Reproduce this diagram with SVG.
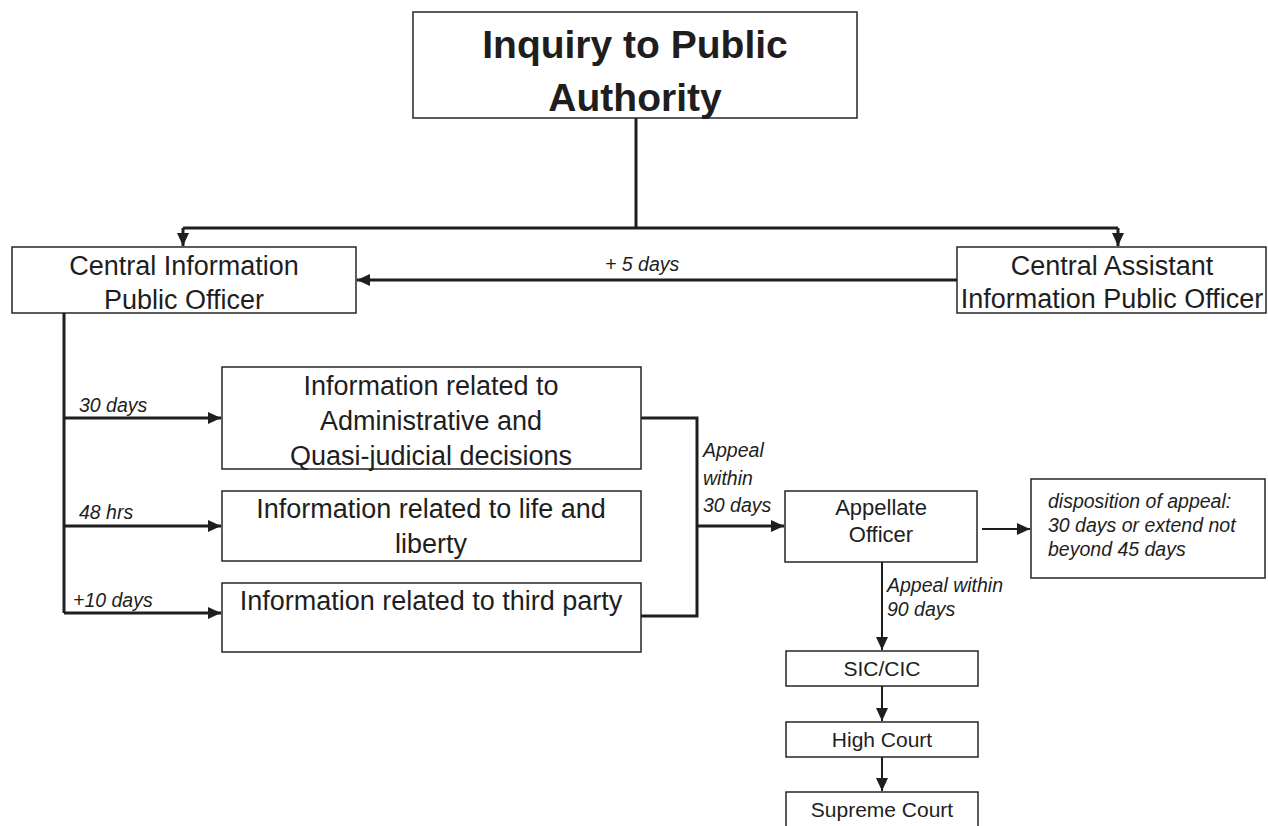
<svg xmlns="http://www.w3.org/2000/svg" width="1268" height="826" viewBox="0 0 1268 826">
<defs>
<style>
.box{fill:#fff;stroke:#262626;stroke-width:1.5}
.t{font-family:"Liberation Sans",Arial,sans-serif;fill:#1e1e1e;text-anchor:middle}
.lbl{font-family:"Liberation Sans",Arial,sans-serif;font-style:italic;fill:#1e1e1e;font-size:19.5px}
.thick{fill:none;stroke:#1e1e1e;stroke-width:3}
.thin{fill:none;stroke:#1e1e1e;stroke-width:2}
</style>
<marker id="ah" markerUnits="userSpaceOnUse" markerWidth="14" markerHeight="14" viewBox="0 0 14 14" refX="13" refY="7" orient="auto">
<path d="M0,1 L13,7 L0,13 Z" fill="#1e1e1e"/>
</marker>
</defs>
<rect width="1268" height="826" fill="#fff"/>

<g id="connectors">
<path class="thick" d="M636,118 V228"/>
<path class="thick" d="M183,228 H1118"/>
<path class="thick" d="M183,228 V246" marker-end="url(#ah)"/>
<path class="thick" d="M1118,228 V246" marker-end="url(#ah)"/>
<path class="thick" d="M957,280 H357" marker-end="url(#ah)"/>
<path class="thick" d="M64,313 V613"/>
<path class="thick" d="M64,418 H221" marker-end="url(#ah)"/>
<path class="thick" d="M64,526 H221" marker-end="url(#ah)"/>
<path class="thick" d="M64,613 H221" marker-end="url(#ah)"/>
<path class="thick" d="M641,418 H697 V616 H641"/>
<path class="thick" d="M697,526 H784" marker-end="url(#ah)"/>
<path class="thin" d="M982,529 H1030" marker-end="url(#ah)"/>
<path class="thin" d="M882,562 V650" marker-end="url(#ah)"/>
<path class="thin" d="M882,686 V721" marker-end="url(#ah)"/>
<path class="thin" d="M882,757 V791" marker-end="url(#ah)"/>
<text class="lbl" x="605" y="271">+ 5 days</text>
<text class="lbl" x="79" y="412">30 days</text>
<text class="lbl" x="79" y="519">48 hrs</text>
<text class="lbl" x="73" y="607">+10  days</text>
<text class="lbl" x="703" y="457">Appeal</text>
<text class="lbl" x="703" y="485">within</text>
<text class="lbl" x="703" y="512">30 days</text>
<text class="lbl" x="887" y="592" font-size="20.5">Appeal within</text>
<text class="lbl" x="887" y="616" font-size="20.5">90 days</text>
</g>

<g id="inquiry">
<rect class="box" x="413" y="12" width="444" height="106"/>
<text class="t" x="635" y="58" font-size="39" font-weight="bold">Inquiry to Public</text>
<text class="t" x="635" y="111" font-size="39" font-weight="bold">Authority</text>
</g>

<g id="cipo">
<rect class="box" x="12" y="247" width="344" height="66"/>
<text class="t" x="184" y="275" font-size="27">Central Information</text>
<text class="t" x="184" y="309" font-size="27">Public Officer</text>
</g>

<g id="caipo">
<rect class="box" x="957" y="247" width="309" height="66"/>
<text class="t" x="1112" y="275" font-size="27">Central Assistant</text>
<text class="t" x="1112" y="308" font-size="27">Information Public Officer</text>
</g>

<g id="info-admin">
<rect class="box" x="222" y="367" width="419" height="102"/>
<text class="t" x="431" y="395" font-size="27">Information related to</text>
<text class="t" x="431" y="430" font-size="27">Administrative and</text>
<text class="t" x="431" y="465" font-size="27">Quasi-judicial decisions</text>
</g>

<g id="info-life">
<rect class="box" x="222" y="491" width="419" height="70"/>
<text class="t" x="431" y="518" font-size="27">Information related to life and</text>
<text class="t" x="431" y="553" font-size="27">liberty</text>
</g>

<g id="info-third">
<rect class="box" x="222" y="583" width="419" height="69"/>
<text class="t" x="431" y="610" font-size="27">Information related to third party</text>
</g>

<g id="appellate">
<rect class="box" x="785" y="491" width="192" height="71"/>
<text class="t" x="881" y="515" font-size="22">Appellate</text>
<text class="t" x="881" y="542" font-size="22">Officer</text>
</g>

<g id="disposition">
<rect class="box" x="1031" y="479" width="234" height="99"/>
<text class="lbl" x="1048" y="508" font-size="18.7">disposition of appeal:</text>
<text class="lbl" x="1048" y="532" font-size="18.7">30 days or extend not</text>
<text class="lbl" x="1048" y="556" font-size="18.7">beyond 45 days</text>
</g>

<g id="sic-cic">
<rect class="box" x="786" y="651" width="192" height="35"/>
<text class="t" x="882" y="676" font-size="21">SIC/CIC</text>
</g>

<g id="high-court">
<rect class="box" x="786" y="722" width="192" height="35"/>
<text class="t" x="882" y="747" font-size="21">High Court</text>
</g>

<g id="supreme-court">
<rect class="box" x="786" y="792" width="192" height="40"/>
<text class="t" x="882" y="817" font-size="21">Supreme Court</text>
</g>
</svg>
